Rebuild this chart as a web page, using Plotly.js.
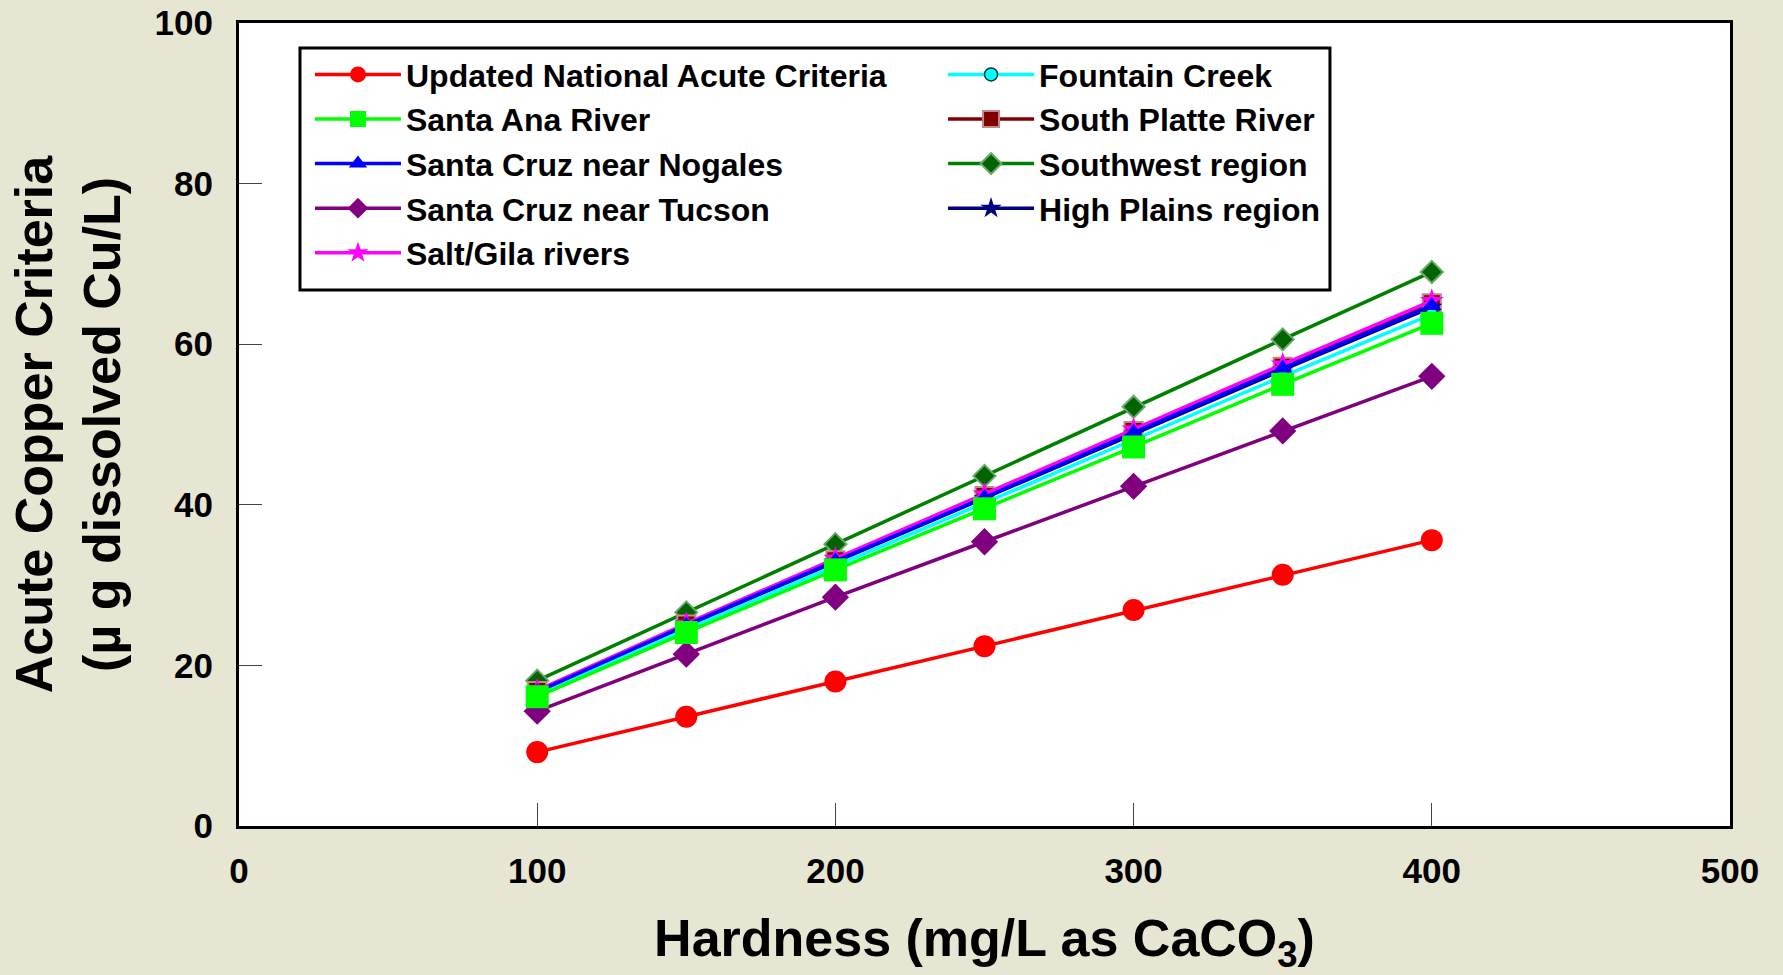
<!DOCTYPE html>
<html>
<head>
<meta charset="utf-8">
<script src="https://cdn.plot.ly/plotly-3.0.1.min.js"></script>
<style>html,body{margin:0;padding:0;background:#e6e6d2;}#chart{width:1783px;height:975px;}</style>
</head>
<body>
<div id="chart"></div>
<script>
// Hardness values (mg/L as CaCO3)
const hardness = [100, 150, 200, 250, 300, 350, 400];

// Acute copper criteria (µg dissolved Cu/L)
const updatedNational = [9.2, 13.6, 18.0, 22.4, 26.9, 31.3, 35.6];
const santaAnaRiver   = [16.1, 24.1, 31.9, 39.5, 47.2, 55.0, 62.6];
const santaCruzNogales = [16.7, 25.0, 33.0, 40.9, 49.0, 57.0, 64.8];
const santaCruzTucson = [14.3, 21.4, 28.5, 35.4, 42.3, 49.2, 56.0];
const saltGilaRivers  = [16.9, 25.2, 33.3, 41.3, 49.4, 57.5, 65.4];
const fountainCreek   = [16.4, 24.5, 32.4, 40.2, 48.1, 56.0, 63.7];
const southPlatteRiver = [16.8, 25.1, 33.1, 41.1, 49.2, 57.2, 65.1];
const southwestRegion = [18.1, 26.6, 35.1, 43.6, 52.2, 60.6, 69.0];
const highPlainsRegion = [16.6, 24.9, 32.9, 40.8, 48.8, 56.8, 64.6];

const seriesNames = [
  'Updated National Acute Criteria', 'Santa Ana River', 'Santa Cruz near Nogales',
  'Santa Cruz near Tucson', 'Salt/Gila rivers', 'Fountain Creek',
  'South Platte River', 'Southwest region', 'High Plains region'
];

function tr(name, y, color, marker, legendId, rank) {
  return {
    x: hardness, y: y, name: name, type: 'scatter', mode: 'lines+markers',
    line: {color: color, width: 3.5},
    marker: marker,
    legend: legendId,
    legendrank: rank
  };
}

// drawing order chosen so that overlaps look like the original
const traces = [
  tr(seriesNames[0], updatedNational, '#ff0000', {symbol: 'circle', size: 22, color: '#ff0000'}, 'legend', 1),
  tr(seriesNames[3], santaCruzTucson, '#800080', {symbol: 'diamond', size: 21, color: '#800080'}, 'legend', 4),
  tr(seriesNames[7], southwestRegion, '#008000', {symbol: 'diamond', size: 17, color: '#006400', line: {color: '#6aa86a', width: 2}}, 'legend2', 3),
  tr(seriesNames[6], southPlatteRiver, '#800000', {symbol: 'square', size: 18, color: '#800000', line: {color: '#c08888', width: 2}}, 'legend2', 2),
  tr(seriesNames[8], highPlainsRegion, '#000080', {symbol: 'star', size: 16, color: '#000080'}, 'legend2', 4),
  tr(seriesNames[5], fountainCreek, '#00ffff', {symbol: 'circle', size: 13, color: '#00ffff', line: {color: '#003333', width: 1.5}}, 'legend2', 1),
  tr(seriesNames[4], saltGilaRivers, '#ff00ff', {symbol: 'star', size: 18, color: '#ff00ff'}, 'legend', 5),
  tr(seriesNames[2], santaCruzNogales, '#0000ff', {symbol: 'triangle-up', size: 17, color: '#0000ff'}, 'legend', 3),
  tr(seriesNames[1], santaAnaRiver, '#00ff00', {symbol: 'square', size: 23, color: '#00ff00'}, 'legend', 2)
];

const fontFam = '"Liberation Sans", Arial, sans-serif';

const legendCommon = {
  xanchor: 'left', yanchor: 'top', y: 0.970,
  orientation: 'v',
  itemwidth: 86,
  bgcolor: 'rgba(0,0,0,0)', borderwidth: 0,
  font: {size: 32, family: fontFam, weight: 'bold', color: '#000'},
  traceorder: 'normal'
};

const layout = {
  width: 1783, height: 975,
  paper_bgcolor: '#e6e6d2',
  plot_bgcolor: '#ffffff',
  margin: {l: 239, r: 53, t: 23, b: 149},
  font: {family: fontFam, color: '#000000', weight: 'bold'},
  showlegend: true,
  xaxis: {
    range: [0, 500], dtick: 100, tick0: 0,
    showgrid: false, zeroline: false,
    showline: true, mirror: true, linecolor: '#000000', linewidth: 3,
    ticks: 'inside', ticklen: 23, tickwidth: 1, tickcolor: '#444444',
    ticklabelstandoff: 12,
    tickfont: {size: 35, family: fontFam, weight: 'bold', color: '#000'},
    title: {text: 'Hardness (mg/L as CaCO<sub>3</sub>)', font: {size: 52, family: fontFam, weight: 'bold', color: '#000'}, standoff: 32}
  },
  yaxis: {
    range: [0, 100], dtick: 20, tick0: 0,
    showgrid: false, zeroline: false,
    showline: true, mirror: true, linecolor: '#000000', linewidth: 3,
    ticks: 'inside', ticklen: 23, tickwidth: 1, tickcolor: '#444444',
    ticklabelstandoff: 16,
    tickfont: {size: 35, family: fontFam, weight: 'bold', color: '#000'},
    title: {text: 'Acute Copper Criteria<br>(µ g dissolved Cu/L)', font: {size: 52, family: fontFam, weight: 'bold', color: '#000'}, standoff: 18}
  },
  legend: Object.assign({}, legendCommon, {x: 0.0476}),
  legend2: Object.assign({}, legendCommon, {x: 0.4722}),
  shapes: [{
    type: 'rect', xref: 'paper', yref: 'paper',
    x0: 0.0409, x1: 0.7317, y0: 0.6675, y1: 0.969,
    fillcolor: '#ffffff', line: {color: '#000000', width: 3}, layer: 'above'
  }]
};

Plotly.newPlot('chart', traces, layout, {displayModeBar: false, staticPlot: true});
</script>
</body>
</html>
